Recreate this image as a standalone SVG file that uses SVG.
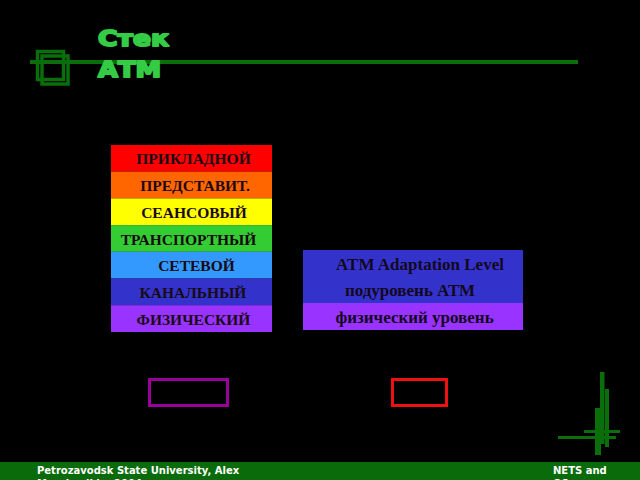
<svg xmlns="http://www.w3.org/2000/svg" width="640" height="480" viewBox="0 0 640 480">
<style>
.lay{font-family:"Liberation Serif","Times New Roman",serif;font-weight:bold;font-size:15.5px;fill:#1a0a14;text-anchor:middle}
.lay2{font-family:"Liberation Serif","Times New Roman",serif;font-weight:bold;font-size:17px;fill:#14081e;text-anchor:middle}
.title{font-family:"DejaVu Sans","Liberation Sans",sans-serif;font-weight:bold;font-size:22px;fill:#33cc44;stroke:#33cc44;stroke-width:2;stroke-linejoin:round}
.foot{font-family:"DejaVu Sans","Liberation Sans",sans-serif;font-weight:bold;font-size:10px;fill:#ffffff}
.dg{fill:#0a6e0a}
</style>
<rect width="640" height="480" fill="#000000"/>

<g id="header">
  <rect x="30" y="60" width="548" height="4" class="dg"/>
  <rect x="37.5" y="51.5" width="26" height="28" fill="none" stroke="#0a6e0a" stroke-width="3.5"/>
  <rect x="42" y="56" width="26" height="28" fill="none" stroke="#0a6e0a" stroke-width="3.5"/>
  <text x="98" y="46" class="title" textLength="71" lengthAdjust="spacingAndGlyphs">Стек</text>
  <text x="98" y="77" class="title" textLength="63" lengthAdjust="spacingAndGlyphs">АТМ</text>
</g>

<g id="osi-stack">
  <g id="osi-app"><rect x="111" y="145" width="161" height="26.7" fill="#ff0000"/><text x="193.5" y="164" class="lay">ПРИКЛАДНОЙ</text></g>
  <g id="osi-pres"><rect x="111" y="171.7" width="161" height="26.7" fill="#ff6600"/><text x="195" y="191" class="lay">ПРЕДСТАВИТ.</text></g>
  <g id="osi-sess"><rect x="111" y="198.4" width="161" height="26.7" fill="#ffff00"/><text x="194" y="217.5" class="lay">СЕАНСОВЫЙ</text></g>
  <g id="osi-trans"><rect x="111" y="225.1" width="161" height="26.7" fill="#33cc33"/><text x="188.5" y="244.5" class="lay">ТРАНСПОРТНЫЙ</text></g>
  <g id="osi-net"><rect x="111" y="251.8" width="161" height="26.7" fill="#3399ff"/><text x="196.5" y="271" class="lay">СЕТЕВОЙ</text></g>
  <g id="osi-link"><rect x="111" y="278.5" width="161" height="26.7" fill="#3333cc"/><text x="193" y="298" class="lay">КАНАЛЬНЫЙ</text></g>
  <g id="osi-phys"><rect x="111" y="305.2" width="161" height="26.8" fill="#9933ff"/><text x="193.5" y="324.5" class="lay">ФИЗИЧЕСКИЙ</text></g>
</g>

<g id="atm-stack">
  <g id="atm-aal"><rect x="303" y="250" width="220" height="27" fill="#3333cc"/><text x="420" y="269.5" class="lay2">ATM Adaptation Level</text></g>
  <g id="atm-sub"><rect x="303" y="277" width="220" height="26" fill="#3333cc"/><text x="410" y="296" class="lay2">подуровень АТМ</text></g>
  <g id="atm-phys"><rect x="303" y="303" width="220" height="27" fill="#9933ff"/><text x="414.5" y="322.5" class="lay2">физический уровень</text></g>
</g>

<g id="box-left"><rect x="149.5" y="379.5" width="78" height="26" fill="none" stroke="#990099" stroke-width="3"/></g>
<g id="box-right"><rect x="392.5" y="379.5" width="54" height="26" fill="none" stroke="#ee1111" stroke-width="3"/></g>

<g id="deco">
  <rect x="600" y="372" width="4.5" height="72" class="dg"/>
  <rect x="605" y="389" width="4" height="58" class="dg"/>
  <rect x="595" y="408" width="6" height="47" class="dg"/>
  <rect x="584" y="430" width="36" height="3" class="dg"/>
  <rect x="558" y="436" width="58" height="3" class="dg"/>
</g>

<g id="connectors"></g>

<g id="footer">
  <rect x="0" y="462" width="640" height="18" fill="#0a6b0a"/>
  <text x="37" y="474" class="foot">Petrozavodsk State University, Alex</text>
  <text x="37" y="487" class="foot">Moschevikin, 2004</text>
  <text x="553" y="474" class="foot">NETS and</text>
  <text x="553" y="487" class="foot">OS</text>
</g>
</svg>
